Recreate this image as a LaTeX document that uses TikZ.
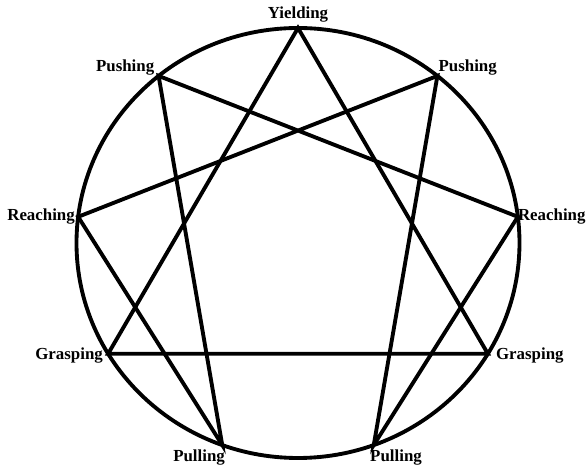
\documentclass[tikz,border=0pt]{standalone}
\usepackage{fontspec}
\setmainfont{Liberation Serif}
\usepackage{tikz}
\usetikzlibrary{positioning}

\begin{document}
\begin{tikzpicture}[
  ring/.style={line width=2.2pt},
  chord/.style={line width=2.2pt,line cap=round,line join=miter},
  lbl/.style={font=\fontsize{9.6}{11}\selectfont\bfseries,inner sep=1.5pt}
]
  \useasboundingbox (-5.96,-4.5) rectangle (5.76,4.86);

  % Circle
  \coordinate (centre) at (0,0);
  \draw[ring] (centre) ellipse (4.43 and 4.30);

  % Points on the circle
  \coordinate (yield) at (90:4.43 and 4.30);
  \coordinate (pushL) at (129:4.43 and 4.30);
  \coordinate (pushR) at (51:4.43 and 4.30);
  \coordinate (reachL) at (173:4.43 and 4.30);
  \coordinate (reachR) at (7:4.43 and 4.30);
  \coordinate (graspL) at (-149:4.43 and 4.30);
  \coordinate (graspR) at (-31:4.43 and 4.30);
  \coordinate (pullL) at (-110:4.43 and 4.30);
  \coordinate (pullR) at (-70:4.43 and 4.30);

  % Labels
  \node[lbl,above=1.3pt of yield] (yieldtxt) {Yielding};
  \node[lbl,above left=-1.5pt and 0.8pt of pushL] (pushLtxt) {Pushing};
  \node[lbl,above right=-1.5pt and -1pt of pushR] (pushRtxt) {Pushing};
  \node[lbl,left=0.2pt of reachL] (reachLtxt) {Reaching};
  \node[lbl,right=-0.6pt of reachR,inner xsep=0.5pt] (reachRtxt) {Reaching};
  \node[lbl,left=1.3pt of graspL,yshift=-1pt] (graspLtxt) {Grasping};
  \node[lbl,right=3pt of graspR,yshift=-1pt] (graspRtxt) {Grasping};
  \node[lbl,below left=1pt and -3.2pt of pullL] (pullLtxt) {Pulling};
  \node[lbl,below right=1pt and -3.7pt of pullR] (pullRtxt) {Pulling};

  % Triangle
  \draw[chord] (yield) -- (graspL) -- (graspR) -- cycle;

  % Hexagram
  \draw[chord] (pushL) -- (reachR) -- (pullR) -- (pushR) -- (reachL) -- (pullL) -- cycle;
\end{tikzpicture}
\end{document}
